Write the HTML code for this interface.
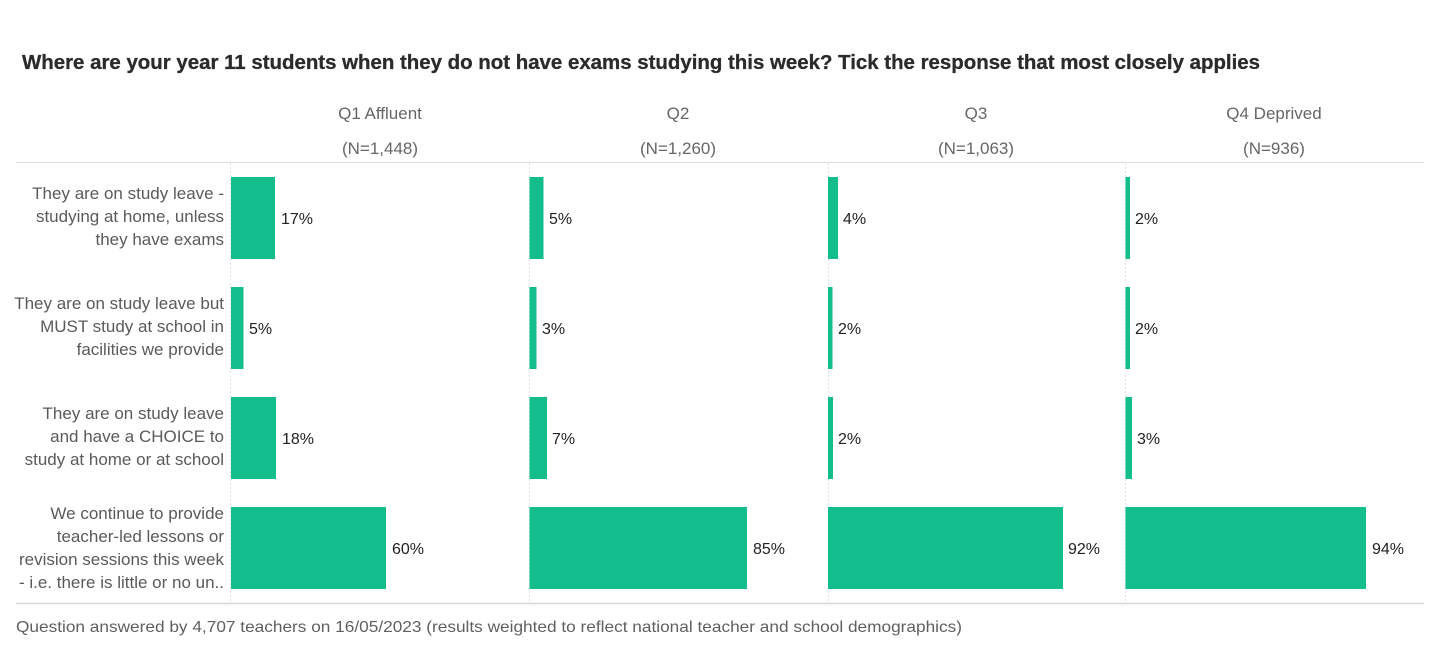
<!DOCTYPE html>
<html>
<head>
<meta charset="utf-8">
<style>
html,body{margin:0;padding:0;background:#fff;}
svg{display:block;}
text{font-family:"Liberation Sans",sans-serif;}
</style>
</head>
<body>
<svg width="1440" height="655" viewBox="0 0 1440 655" xmlns="http://www.w3.org/2000/svg">
<rect width="1440" height="655" fill="#fff"/>
<text x="22" y="69" font-size="20" font-weight="bold" fill="#2b2b2b" stroke="#2b2b2b" stroke-width="0.3" textLength="1238" lengthAdjust="spacingAndGlyphs">Where are your year 11 students when they do not have exams studying this week? Tick the response that most closely applies</text>

<!-- headers -->
<g font-size="17" fill="#666" text-anchor="middle">
<text x="380" y="119">Q1 Affluent</text>
<text x="380" y="154">(N=1,448)</text>
<text x="678" y="119">Q2</text>
<text x="678" y="154">(N=1,260)</text>
<text x="976" y="119">Q3</text>
<text x="976" y="154">(N=1,063)</text>
<text x="1274" y="119">Q4 Deprived</text>
<text x="1274" y="154">(N=936)</text>
</g>

<!-- lines -->
<line x1="16" y1="162.5" x2="1424" y2="162.5" stroke="#dcdcdc" stroke-width="1"/>
<line x1="16" y1="603.5" x2="1424" y2="603.5" stroke="#d6d6d6" stroke-width="1.5"/>
<g stroke="#e2e2e2" stroke-width="1" stroke-dasharray="2,2">
<line x1="230.5" y1="163" x2="230.5" y2="603"/>
<line x1="529.5" y1="163" x2="529.5" y2="603"/>
<line x1="828.5" y1="163" x2="828.5" y2="603"/>
<line x1="1125.5" y1="163" x2="1125.5" y2="603"/>
</g>

<!-- row labels -->
<g font-size="17" fill="#5a5a5a" text-anchor="end">
<text x="224" y="199">They are on study leave -</text>
<text x="224" y="222">studying at home, unless</text>
<text x="224" y="245">they have exams</text>

<text x="224" y="309">They are on study leave but</text>
<text x="224" y="332">MUST study at school in</text>
<text x="224" y="355">facilities we provide</text>

<text x="224" y="419">They are on  study leave</text>
<text x="224" y="442">and have a CHOICE to</text>
<text x="224" y="465">study at home or at school</text>

<text x="224" y="519">We continue to provide</text>
<text x="224" y="542">teacher-led lessons or</text>
<text x="224" y="565">revision sessions this week</text>
<text x="224" y="588">- i.e. there is little or no un..</text>
</g>

<!-- bars -->
<g fill="#13bd8c">
<rect x="231" y="177" width="44" height="82"/>
<rect x="231" y="287" width="12.5" height="82"/>
<rect x="231" y="397" width="45" height="82"/>
<rect x="231" y="507" width="155" height="82"/>
<rect x="529.5" y="177" width="14" height="82"/>
<rect x="529.5" y="287" width="7" height="82"/>
<rect x="529.5" y="397" width="17.5" height="82"/>
<rect x="529.5" y="507" width="217.5" height="82"/>
<rect x="828" y="177" width="10" height="82"/>
<rect x="828" y="287" width="4.5" height="82"/>
<rect x="828" y="397" width="5" height="82"/>
<rect x="828" y="507" width="235" height="82"/>
<rect x="1125.5" y="177" width="4.5" height="82"/>
<rect x="1125.5" y="287" width="4.5" height="82"/>
<rect x="1125.5" y="397" width="6.5" height="82"/>
<rect x="1125.5" y="507" width="240.5" height="82"/>
</g>

<!-- values -->
<g font-size="16" fill="#222">
<text x="281" y="224">17%</text>
<text x="249" y="334">5%</text>
<text x="282" y="444">18%</text>
<text x="392" y="554">60%</text>

<text x="549" y="224">5%</text>
<text x="542" y="334">3%</text>
<text x="552" y="444">7%</text>
<text x="753" y="554">85%</text>

<text x="843" y="224">4%</text>
<text x="838" y="334">2%</text>
<text x="838" y="444">2%</text>
<text x="1068" y="554">92%</text>

<text x="1135" y="224">2%</text>
<text x="1135" y="334">2%</text>
<text x="1137" y="444">3%</text>
<text x="1372" y="554">94%</text>
</g>

<text x="16" y="632" font-size="16" fill="#5f5f5f" textLength="946" lengthAdjust="spacingAndGlyphs">Question answered by 4,707 teachers on 16/05/2023 (results weighted to reflect national teacher and school demographics)</text>
</svg>
</body>
</html>
